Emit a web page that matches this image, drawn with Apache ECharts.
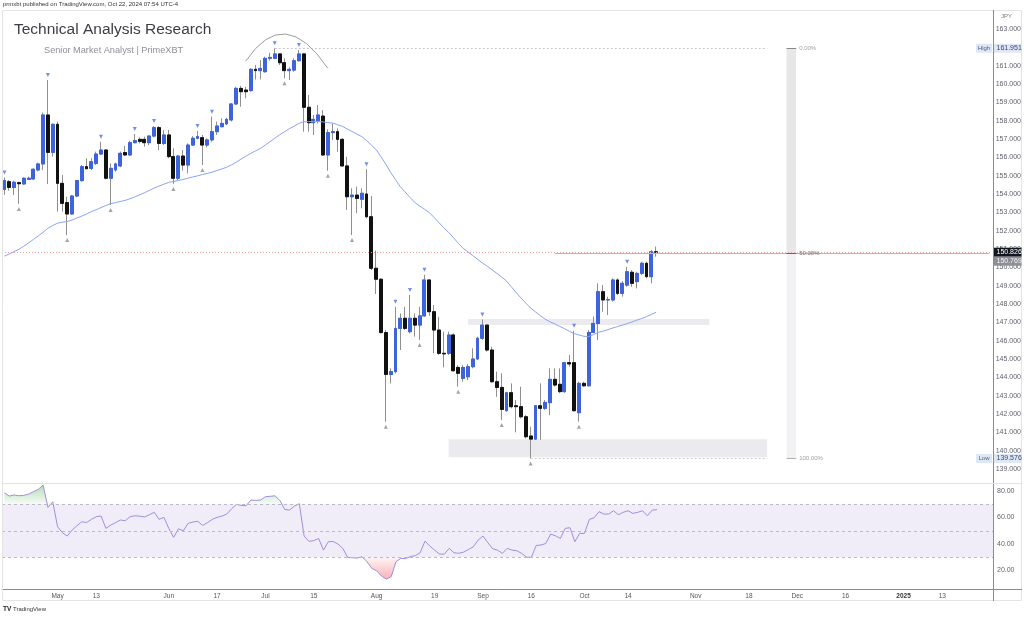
<!DOCTYPE html>
<html><head><meta charset="utf-8">
<script src="https://cdn.jsdelivr.net/npm/echarts@6/dist/echarts.min.js"></script>
<style>html,body{margin:0;padding:0;background:#fff}#c{width:1024px;height:619px}</style>
</head><body><div id="c"></div>
<script>
// ---------- DATA ----------
const firstDay = '2024-04-16', lastDay = '2025-01-27';   // daily (weekday) bars shown on the axis
const openP = [154.25,154.67,154.36,154.62,154.55,154.80,154.82,155.31,155.64,158.31,
156.27,157.80,154.58,153.53,152.91,153.89,154.73,155.49,155.40,155.67,
156.18,156.40,154.86,155.31,155.53,156.26,156.13,156.80,156.98,156.98,
156.80,157.16,157.62,156.76,157.22,156.04,154.86,156.07,155.58,156.67,
157.04,157.07,156.67,156.95,157.40,157.67,157.82,158.04,158.91,159.76,
159.67,159.64,160.80,160.73,160.67,161.40,161.40,161.64,161.16,160.73,
160.76,161.27,161.64,158.73,157.89,158.00,158.25,156.13,157.35,157.40,
156.98,155.53,153.85,153.94,153.71,154.00,152.76,149.95,149.35,146.44,
144.16,144.31,146.67,147.22,146.49,147.22,146.85,147.35,149.31,147.58,
146.58,145.31,145.31,146.31,144.54,143.94,144.03,144.58,145.00,146.13,
146.85,145.49,143.76,143.45,142.18,143.16,142.45,142.40,141.85,140.80,
140.63,142.45,142.31,142.62,143.89,143.62,143.22,144.80,144.80,142.07,
143.67,143.54,146.45,146.94,148.67,148.22,148.22,149.31,148.58,149.03,
149.73,149.22,149.67,150.22,149.49,150.85];
const highP = [154.90,154.76,154.73,154.67,154.91,154.95,155.40,155.71,158.44,160.22,
157.85,157.95,155.04,153.85,153.95,154.76,155.58,155.95,155.95,156.31,
156.85,156.44,155.67,155.71,156.31,156.62,156.91,157.27,157.09,157.13,
157.22,157.71,157.71,157.49,157.49,156.49,156.13,156.40,156.76,157.16,
157.44,157.22,157.04,158.22,157.95,158.13,158.16,158.95,159.85,159.89,
159.85,160.85,161.04,161.31,161.49,161.71,161.95,161.67,161.40,160.91,
161.40,161.85,161.67,159.40,158.31,158.85,158.58,157.53,157.85,157.58,
157.04,156.04,154.31,154.40,154.31,155.35,153.89,150.91,149.40,146.58,
144.49,147.85,147.49,147.85,148.49,147.49,147.85,149.60,149.35,147.94,
147.30,146.49,146.49,146.40,144.67,144.67,144.73,145.58,146.22,147.16,
146.85,145.67,144.31,144.22,143.22,143.67,142.76,143.49,141.94,141.31,
142.49,143.67,142.76,144.49,144.49,144.49,144.85,145.22,146.54,143.76,
143.76,146.58,147.31,149.13,149.03,148.40,149.40,149.40,149.25,150.03,
149.85,149.76,150.31,150.31,150.94,151.13];
const lowP = [153.95,154.18,153.95,153.46,154.49,154.76,154.76,155.24,155.30,154.55,
156.04,153.04,153.04,151.76,152.86,153.82,154.67,155.35,155.31,155.58,
156.13,154.80,153.40,155.22,155.46,156.07,156.07,156.76,156.76,156.58,
156.67,157.09,156.40,156.67,155.95,154.55,154.76,155.27,155.13,156.62,
156.98,155.58,156.55,156.85,157.22,157.64,157.76,157.95,158.85,158.76,
159.22,159.58,160.25,160.25,160.62,161.27,161.35,161.04,160.31,160.22,
160.67,161.22,157.40,157.40,157.22,157.85,156.07,155.27,156.95,156.31,
155.49,153.13,151.76,152.95,153.22,152.67,149.85,148.55,146.40,141.58,
143.67,144.22,145.49,146.58,146.40,146.22,146.04,147.31,147.35,145.31,
145.22,144.54,145.22,144.31,143.49,143.76,143.85,144.49,144.94,146.04,
145.40,143.71,142.94,141.67,142.13,142.31,141.00,141.76,140.67,139.576,
140.58,140.58,142.22,141.94,143.49,143.13,143.16,144.58,142.13,141.58,
143.49,143.49,146.40,146.04,147.58,147.40,148.13,148.49,148.40,148.94,
148.94,148.85,149.58,149.40,149.13,150.58];
const closeP = [154.73,154.36,154.64,154.56,154.86,154.86,155.35,155.64,158.31,156.27,
157.80,154.58,153.49,152.91,153.89,154.73,155.49,155.38,155.76,156.18,
156.40,154.86,155.40,155.64,156.22,156.13,156.80,156.91,156.87,156.80,
157.16,157.62,156.76,157.22,156.04,154.86,156.07,155.58,156.67,157.04,
157.13,156.67,156.95,157.40,157.71,157.85,158.07,158.91,159.76,159.58,
159.58,160.80,160.73,160.85,161.40,161.45,161.64,161.16,160.73,160.80,
161.27,161.64,158.73,157.89,158.07,158.31,156.13,157.35,157.40,156.98,
155.53,153.85,153.94,153.76,154.04,152.76,149.95,149.35,146.44,144.16,
144.31,146.67,147.22,146.67,147.22,146.85,147.35,149.31,147.58,146.58,
145.31,145.28,146.31,144.36,144.22,144.54,144.58,145.00,146.13,146.85,
145.49,143.76,143.45,142.25,143.16,142.40,142.40,141.85,140.76,140.63,
142.45,142.31,142.63,143.89,143.58,143.22,144.80,144.73,142.18,143.67,
143.54,146.45,146.94,148.67,148.22,148.24,149.31,148.58,149.13,149.76,
149.13,149.67,150.22,149.49,150.85,150.826];
const maLine = [150.61,150.73,150.86,150.98,151.15,151.33,151.52,151.71,151.91,152.13,
152.28,152.41,152.46,152.50,152.58,152.69,152.79,152.91,153.04,153.14,
153.26,153.37,153.47,153.53,153.59,153.65,153.74,153.84,153.95,154.07,
154.19,154.32,154.43,154.53,154.63,154.68,154.73,154.79,154.86,154.93,
154.99,155.06,155.12,155.19,155.28,155.36,155.46,155.58,155.73,155.90,
156.06,156.21,156.35,156.48,156.66,156.85,157.04,157.23,157.39,157.56,
157.70,157.85,157.94,157.95,157.95,157.95,157.93,157.90,157.87,157.78,
157.69,157.55,157.41,157.27,157.13,156.92,156.67,156.42,156.03,155.63,
155.18,154.79,154.40,154.11,153.82,153.54,153.35,153.17,152.99,152.72,
152.44,152.16,151.91,151.62,151.32,151.04,150.84,150.64,150.44,150.24,
150.06,149.87,149.67,149.47,149.25,148.94,148.62,148.33,148.05,147.78,
147.57,147.37,147.17,147.03,146.91,146.78,146.66,146.51,146.39,146.31,
146.24,146.22,146.33,146.45,146.52,146.60,146.69,146.77,146.85,146.93,
147.02,147.12,147.21,147.31,147.43,147.55];
const rsiLine = [78.7,76.2,77.0,76.4,76.7,77.7,79.5,81.2,84.5,67.6,
71.9,53.0,48.5,46.0,50.5,53.8,56.8,56.2,58.6,60.6,
61.1,51.8,54.3,56.1,58.1,57.6,60.6,61.3,61.0,60.4,
62.1,63.9,58.6,60.1,51.8,45.0,51.5,50.0,55.6,56.6,
57.1,54.0,56.1,58.6,60.1,61.1,62.6,66.6,69.9,69.1,
68.9,73.2,72.9,73.2,75.7,76.0,76.4,72.7,66.1,65.6,
68.6,70.4,46.0,42.0,42.5,44.2,35.4,41.7,41.9,40.0,
36.7,29.9,29.6,29.4,30.4,26.6,21.6,19.8,15.8,13.5,
15.3,26.6,29.1,28.9,30.6,31.2,33.4,42.2,38.4,35.4,
32.4,32.4,36.7,33.4,33.0,33.9,35.9,37.9,43.0,46.0,
41.0,36.4,35.4,32.9,36.7,35.4,34.9,32.9,30.1,29.9,
38.9,39.2,40.4,47.5,46.2,44.2,51.8,52.3,41.7,48.0,
48.0,58.6,59.8,64.4,62.6,62.6,65.1,62.1,63.9,65.1,
63.1,63.9,65.1,61.3,65.6,65.9];
const pivotHighIdx = [0,9,20,27,31,40,43,56,61,75,81,84,87,99,118,129];
const pivotLowIdx = [3,13,22,35,41,58,67,72,79,86,94,103,109,119];
const xTickDates = ['2024-05-01','2024-05-13','2024-06-03','2024-06-17','2024-07-01','2024-07-15','2024-08-01','2024-08-19','2024-09-02','2024-09-16','2024-10-01','2024-10-14','2024-11-01','2024-11-18','2024-12-02','2024-12-16','2025-01-01','2025-01-13'];
const xTickTexts = ['May','13','Jun','17','Jul','15','Aug','19','Sep','16','Oct','14','Nov','18','Dec','16','2025','13'];
const fibHigh = 161.951, fibLow = 139.576, fibMid = 150.7635;
const lastPrice = 150.826, midLabel = 150.769;
const zoneA = {from:96, to:146, top:147.18, bottom:146.85};
const zoneB = {from:92, to:158, top:140.62, bottom:139.64};
const fibBar = {from:162, to:164};
const fibTopLine = {from:56, to:158}, fibLowLine = {from:109, to:158}, fibMidLine = {from:114, to:204};
const arcAnchor = {start:[50,161.25], ctrl:[58,164.4], end:[67,160.85]};

// ---------- categories (weekday calendar) ----------
const categories = [];
{
  const d = new Date(firstDay + 'T00:00:00Z'), e = new Date(lastDay + 'T00:00:00Z');
  while (d <= e) { const w = d.getUTCDay(); if (w !== 0 && w !== 6) categories.push(d.toISOString().slice(0,10)); d.setUTCDate(d.getUTCDate() + 1); }
}

const FONT = 'Liberation Sans, Arial, sans-serif';
const UP = '#3d63dd', DOWN = '#111111', WICK = '#8f8f8f';
const candleData = openP.map((o,i)=>[o, closeP[i], lowP[i], highP[i]]);
const bodyData = openP.map((o,i)=>[o, closeP[i], Math.min(o,closeP[i]), Math.max(o,closeP[i])]);

const chart = echarts.init(document.getElementById('c'), null, {renderer:'canvas', width:1024, height:619});

const option = {
  animation:false,
  backgroundColor:'#ffffff',
  textStyle:{fontFamily:FONT},
  grid:[
    {left:2, top:10.667, width:991, height:476.667},
    {left:2, top:464.5, width:991, height:132.5}
  ],
  xAxis:[
    {type:'category', gridIndex:0, data:categories, show:false, boundaryGap:true},
    {type:'category', gridIndex:1, data:categories, boundaryGap:true, offset:-8,
     axisLine:{show:true, lineStyle:{color:'#8a8a8a', width:1}},
     axisTick:{show:false}, splitLine:{show:false},
     axisLabel:{interval:(i,v)=>xTickDates.indexOf(v)>=0, margin:4, fontSize:6.5, color:'#555',
       formatter:(v)=>{const t = xTickTexts[xTickDates.indexOf(v)]; return t==='2025' ? '{b|2025}' : t;},
       rich:{b:{fontWeight:'bold', fontSize:6.5, color:'#333'}}}}
  ],
  yAxis:[
    {type:'value', gridIndex:0, position:'right', min:138, max:164, interval:1,
     axisLine:{show:false}, axisTick:{show:false}, splitLine:{show:false},
     axisLabel:{margin:4, fontSize:7, color:'#60636e', formatter:v=>(v<=138||v>=164)?'':v.toFixed(3)}},
    {type:'value', gridIndex:1, position:'right', min:0, max:100, interval:20,
     axisLine:{show:false}, axisTick:{show:false}, splitLine:{show:false},
     axisLabel:{margin:4, fontSize:7, color:'#60636e', formatter:v=>(v<=0||v>=100)?'':v.toFixed(2)}}
  ],
  series:[
    {name:'annot', type:'line', xAxisIndex:0, yAxisIndex:0, data:[], z:1, silent:true,
     markArea:{silent:true, data:[
       [{coord:[categories[zoneA.from], zoneA.top], itemStyle:{color:'#ebebef'}}, {coord:[categories[zoneA.to], zoneA.bottom]}],
       [{coord:[categories[zoneB.from], zoneB.top], itemStyle:{color:'#ebebef'}}, {coord:[categories[zoneB.to], zoneB.bottom]}],
       [{coord:[categories[fibBar.from], fibHigh], itemStyle:{color:'#e7e7e7'}}, {coord:[categories[fibBar.to], fibMid]}],
       [{coord:[categories[fibBar.from], fibMid], itemStyle:{color:'#f2f2f4'}}, {coord:[categories[fibBar.to], fibLow]}]
     ]},
     markLine:{silent:true, symbol:['none','none'], animation:false, label:{show:false}, data:[
       [{coord:[categories[fibTopLine.from], fibHigh], lineStyle:{color:'#c9c9c9', width:1, type:[2,2]}}, {coord:[categories[fibTopLine.to], fibHigh]}],
       [{coord:[categories[fibLowLine.from], fibLow], lineStyle:{color:'#c9c9c9', width:1, type:[2,2]}}, {coord:[categories[fibLowLine.to], fibLow]}],
       {yAxis:lastPrice, lineStyle:{color:'#f2a3a3', width:1, type:[1,2]}},
       [{coord:[categories[fibMidLine.from], fibMid], lineStyle:{color:'#bfb3b3', width:1.2, type:'solid'}}, {coord:[categories[fibMidLine.to], fibMid]}],
       [{coord:[categories[fibBar.from], fibHigh], lineStyle:{color:'#8a8a8a', width:1, type:'solid'}, label:{show:true, position:'end', formatter:'0.00%', fontSize:6, color:'#a0a0a0', distance:3}}, {coord:[categories[fibBar.to], fibHigh]}],
       [{coord:[categories[fibBar.from], fibMid], lineStyle:{color:'#666', width:1, type:'solid'}, label:{show:true, position:'end', formatter:'50.00%', fontSize:6, color:'#777', distance:3}}, {coord:[categories[fibBar.to], fibMid]}],
       [{coord:[categories[fibBar.from], fibLow], lineStyle:{color:'#b0b0b0', width:1, type:'solid'}, label:{show:true, position:'end', formatter:'100.00%', fontSize:6, color:'#a0a0a0', distance:3}}, {coord:[categories[fibBar.to], fibLow]}]
     ]}},
    {name:'wicks', type:'candlestick', xAxisIndex:0, yAxisIndex:0, data:candleData, barWidth:3.4, z:3,
     itemStyle:{color:UP, color0:DOWN, borderColor:WICK, borderColor0:WICK, borderWidth:1}},
    {name:'bodies', type:'candlestick', xAxisIndex:0, yAxisIndex:0, data:bodyData, barWidth:3.4, z:4,
     itemStyle:{color:UP, color0:DOWN, borderColor:UP, borderColor0:DOWN, borderWidth:1}},
    {name:'MA', type:'line', xAxisIndex:0, yAxisIndex:0, data:maLine, showSymbol:false, smooth:false, z:5,
     lineStyle:{color:'#8aa4f2', width:1}},
    {name:'pivotHigh', type:'scatter', xAxisIndex:0, yAxisIndex:0, z:6, symbol:'triangle', symbolRotate:180, symbolSize:4, symbolOffset:[0,-5],
     itemStyle:{color:'#4f72e3'}, data:pivotHighIdx.map(i=>[i, highP[i]])},
    {name:'pivotLow', type:'scatter', xAxisIndex:0, yAxisIndex:0, z:6, symbol:'triangle', symbolSize:4, symbolOffset:[0,5],
     itemStyle:{color:'#8c8c8c'}, data:pivotLowIdx.map(i=>[i, lowP[i]])},
    // RSI fills
    {name:'obBase', type:'line', xAxisIndex:1, yAxisIndex:1, stack:'ob', data:rsiLine.map(()=>70), showSymbol:false, lineStyle:{opacity:0}, z:2},
    {name:'obFill', type:'line', xAxisIndex:1, yAxisIndex:1, stack:'ob', data:rsiLine.map(v=>Math.max(v-70,0)), showSymbol:false, lineStyle:{opacity:0}, z:2,
     areaStyle:{color:new echarts.graphic.LinearGradient(0,0,0,1,[{offset:0,color:'rgba(76,175,80,0.6)'},{offset:1,color:'rgba(76,175,80,0.06)'}])}},
    {name:'osBase', type:'line', xAxisIndex:1, yAxisIndex:1, stack:'os', data:rsiLine.map(v=>Math.min(v,30)), showSymbol:false, lineStyle:{opacity:0}, z:2},
    {name:'osFill', type:'line', xAxisIndex:1, yAxisIndex:1, stack:'os', data:rsiLine.map(v=>30-Math.min(v,30)), showSymbol:false, lineStyle:{opacity:0}, z:2,
     areaStyle:{color:new echarts.graphic.LinearGradient(0,0,0,1,[{offset:0,color:'rgba(242,54,69,0.08)'},{offset:1,color:'rgba(242,54,69,0.55)'}])}},
    {name:'RSI', type:'line', xAxisIndex:1, yAxisIndex:1, data:rsiLine, showSymbol:false, z:4,
     lineStyle:{color:'#a08fdc', width:1},
     markArea:{silent:true, itemStyle:{color:'rgba(126,87,194,0.11)'}, data:[[{yAxis:30},{yAxis:70}]]},
     markLine:{silent:true, symbol:['none','none'], label:{show:false}, lineStyle:{color:'#bdb8c9', width:1, type:[3,3]},
       data:[{yAxis:70},{yAxis:50},{yAxis:30}]}}
  ]
};
chart.setOption(option);

// ---------- overlay texts and annotations positioned through the chart's scales ----------
const yP = v => chart.convertToPixel({yAxisIndex:0}, v);
const pt = (i,v) => chart.convertToPixel({gridIndex:0}, [i, v]);
const T = (x,y,text,size,fill,extra) => Object.assign({type:'text', x:x, y:y, z:100, silent:true,
  style:Object.assign({text:text, fontSize:size, fontFamily:FONT, fill:fill, align:'left', verticalAlign:'middle', textAlign:'left', textVerticalAlign:'middle'}, extra||{})});
const R = (x,y,w,h,fill) => ({type:'rect', z:99, silent:true, shape:{x:x,y:y,width:w,height:h}, style:{fill:fill}});
const L = (x1,y1,x2,y2,stroke) => ({type:'line', z:98, silent:true, shape:{x1:x1,y1:y1,x2:x2,y2:y2}, style:{stroke:stroke, lineWidth:1}});

const g = [];
g.push({type:'rect', z:97, silent:true, shape:{x:2.5,y:10.5,width:1019,height:590}, style:{fill:'none', stroke:'#e4e4e4', lineWidth:1}});
g.push(L(993.5,10,993.5,601,'#8c8c8c'));
g.push(L(2,483.5,1022,483.5,'#e2e2e2'));
g.push(L(993,589.5,1022,589.5,'#8a8a8a'));
g.push(T(3,4.5,'prmxbt published on TradingView.com, Oct 22, 2024 07:54 UTC-4',6,'#333'));
g.push(T(14,30,'Technical Analysis Research',15.5,'#3b3e45'));
g.push(T(44,50,'Senior Market Analyst | PrimeXBT',9.2,'#8d9097'));
g.push(T(1001,16.5,'JPY',6,'#777'));
g.push(T(3,609.5,'TV',6.5,'#222',{fontWeight:'bold'}));
g.push(T(13,609.5,'TradingView',6,'#333'));
// High / Low tags
[['High',fibHigh],['Low',fibLow]].forEach(([name,val])=>{
  const y = yP(val);
  g.push(R(976, y-4.5, 16, 9, '#dde7f6'));
  g.push(T(984, y, name, 6, '#55607a', {align:'center', textAlign:'center'}));
  g.push(R(994, y-4.5, 27.5, 9, '#dde7f6'));
  g.push(T(996.5, y, val.toFixed(3), 7, '#3b4a6b'));
});
// last price and mid level tags
{
  const y = yP(lastPrice);
  g.push(R(994, y-4.5, 27.5, 9, '#131722'));
  g.push(T(996.5, y, lastPrice.toFixed(3), 7, '#ffffff'));
  g.push(R(994, y+4.5, 27.5, 9, '#8d8f95'));
  g.push(T(996.5, y+9, midLabel.toFixed(3), 7, '#f4f4f4'));
}
// rounding-top arc
{
  const a = pt(arcAnchor.start[0], arcAnchor.start[1]);
  const c = pt(arcAnchor.ctrl[0], arcAnchor.ctrl[1]);
  const b = pt(arcAnchor.end[0], arcAnchor.end[1]);
  g.push({type:'bezierCurve', z:7, silent:true, shape:{x1:a[0],y1:a[1],cpx1:c[0],cpy1:c[1],x2:b[0],y2:b[1]}, style:{stroke:'#9c9c9c', fill:'none', lineWidth:1}});
}
chart.setOption({graphic:{elements:g}});
</script>
</body></html>
